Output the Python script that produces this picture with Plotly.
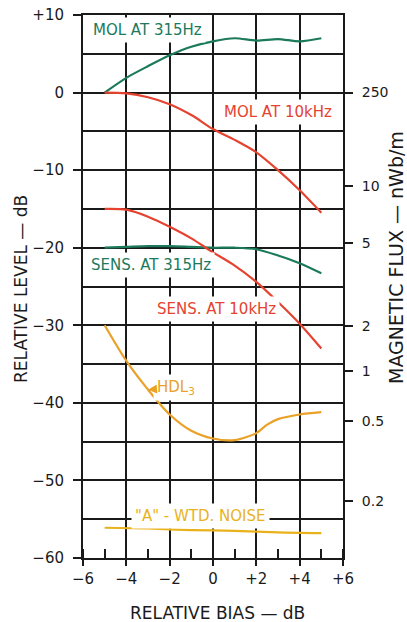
import plotly.graph_objects as go

# Relative bias (dB) sampling points for each measured curve
bias_pts = [-5, -4, -3, -2, -1, 0, 1, 2, 3, 4, 5]
mol_315 = [0.0, 1.9, 3.4, 4.8, 5.9, 6.6, 7.0, 6.7, 6.9, 6.6, 7.0]
mol_10k = [0.0, -0.1, -0.6, -1.5, -2.9, -4.7, -6.1, -7.7, -10.0, -12.6, -15.5]
sens_315 = [-20.0, -19.9, -19.8, -19.8, -19.9, -20.0, -20.0, -20.2, -21.0, -22.0, -23.3]
sens_10k = [-15.0, -15.1, -16.0, -17.3, -18.8, -20.6, -22.3, -24.4, -27.0, -29.8, -33.0]

hdl3_bias = [-5, -4, -3, -2, -1, 0, 1, 2, 2.5, 3, 4, 5]
hdl3 = [-30.0, -34.6, -38.3, -41.5, -43.6, -44.6, -44.8, -43.9, -42.8, -42.1, -41.5, -41.2]

noise_bias = [-5, -3, -1, 1, 3, 5]
noise = [-56.1, -56.2, -56.4, -56.5, -56.7, -56.8]

# Signed tick labels for the bias and level axes
x_label_alias = {"2": "+2", "4": "+4", "6": "+6"}
y_label_alias = {"10": "+10"}

# Magnetic flux scale (nWb/m) against relative level (dB)
flux_text = ["250", "10", "5", "2", "1", "0.5", "0.2"]
flux_level = [0, -12.1, -19.4, -30.1, -35.9, -42.3, -52.7]

GREEN = "#1b7a5c"
RED = "#e5432f"
ORANGE = "#eaa128"
YELLOW = "#e9b21c"
INK = "#1a1a1a"
FONT = "DejaVu Sans"

fig = go.Figure()

def curve(x, y, color):
    fig.add_trace(go.Scatter(
        x=x, y=y, mode="lines",
        line=dict(color=color, width=2.2, shape="spline", smoothing=0.8),
        hoverinfo="skip", showlegend=False,
    ))

curve(bias_pts, mol_315, GREEN)
curve(bias_pts, mol_10k, RED)
curve(bias_pts, sens_315, GREEN)
curve(bias_pts, sens_10k, RED)
curve(hdl3_bias, hdl3, ORANGE)
curve(noise_bias, noise, YELLOW)

# invisible trace that carries the right-hand flux axis
fig.add_trace(go.Scatter(x=[0], y=[0], yaxis="y2", mode="markers",
                         marker=dict(opacity=0), hoverinfo="skip", showlegend=False))

W, H = 407, 622
L, R, T, B = 83, 343, 15, 558

def px(xp):
    return (xp - L) / (R - L)

def py(yp):
    return (B - yp) / (B - T)

def label(text, x0, x1, yc, color, size=15):
    fig.add_annotation(
        x=px((x0 + x1) / 2), y=py(yc), xref="paper", yref="paper",
        text=text, showarrow=False, xanchor="center", yanchor="middle",
        font=dict(family=FONT, size=size, color=color),
        bgcolor="white", borderpad=3,
    )

label("MOL AT 315Hz", 88, 206, 30, GREEN)
label("MOL AT 10kHz", 223, 333, 112, RED)
label("SENS. AT 315Hz", 88, 214, 265, GREEN)
label("SENS. AT 10kHz", 155, 278, 309, RED)
label("\"A\" - WTD. NOISE", 133, 267, 516, YELLOW)

# HDL3 label with a short pointer onto its curve
fig.add_annotation(
    x=hdl3_bias[2], y=hdl3[2], xref="x", yref="y",
    text="HDL<sub>3</sub>", showarrow=True, ax=28, ay=-2,
    arrowhead=2, arrowsize=0.9, arrowwidth=2, arrowcolor=ORANGE, standoff=0,
    xanchor="center", yanchor="middle",
    font=dict(family=FONT, size=15, color=ORANGE),
    bgcolor="white", borderpad=3,
)

def title(text, xc, yc, angle=0, size=17):
    fig.add_annotation(x=px(xc), y=py(yc), xref="paper", yref="paper",
                       text=text, textangle=angle, showarrow=False,
                       xanchor="center", yanchor="middle",
                       font=dict(family=FONT, size=size, color=INK))

title("RELATIVE LEVEL — dB", 21, 289, -90)
title("MAGNETIC FLUX — nWb/m", 396, 258, -90, size=19)
title("RELATIVE BIAS — dB", 217, 613)

fig.update_layout(
    width=W, height=H,
    margin=dict(l=L, r=W - R, t=T, b=H - B, autoexpand=False),
    paper_bgcolor="white", plot_bgcolor="rgba(0,0,0,0)",
    font=dict(family=FONT, size=15, color=INK),
    xaxis=dict(
        range=[-6, 6], tickmode="linear", tick0=0, dtick=2,
        labelalias=x_label_alias,
        showgrid=True, gridcolor=INK, gridwidth=1.5, zeroline=False,
        showline=True, linecolor=INK, linewidth=2, mirror=True,
        ticks="outside", ticklen=6, tickwidth=2, tickcolor=INK,
        tickfont=dict(family=FONT, size=15, color=INK),
        minor=dict(dtick=1, tick0=0, ticks="inside", ticklen=9, tickwidth=1.5,
                   tickcolor=INK, showgrid=False),
        automargin=False, fixedrange=True,
    ),
    yaxis=dict(
        range=[-60, 10], tickmode="linear", tick0=0, dtick=10,
        labelalias=y_label_alias,
        showgrid=True, gridcolor=INK, gridwidth=1.5, zeroline=False,
        showline=True, linecolor=INK, linewidth=2, mirror=True,
        ticks="outside", ticklen=8, tickwidth=2, tickcolor=INK,
        tickfont=dict(family=FONT, size=15, color=INK),
        ticklabelstandoff=6,
        minor=dict(dtick=5, tick0=0, showgrid=True, gridcolor=INK,
                   gridwidth=1.5, ticks=""),
        automargin=False, fixedrange=True,
    ),
    # flux scale overlays the level axis on the right-hand side
    yaxis2=dict(
        range=[-60, 10], overlaying="y", side="right",
        tickvals=flux_level, ticktext=flux_text,
        showgrid=False, zeroline=False, showline=False,
        ticks="outside", ticklen=9, tickwidth=1.5, tickcolor=INK,
        tickfont=dict(family=FONT, size=14, color=INK),
        ticklabelstandoff=6,
        automargin=False, fixedrange=True,
    ),
)

fig.write_html("out.html")
